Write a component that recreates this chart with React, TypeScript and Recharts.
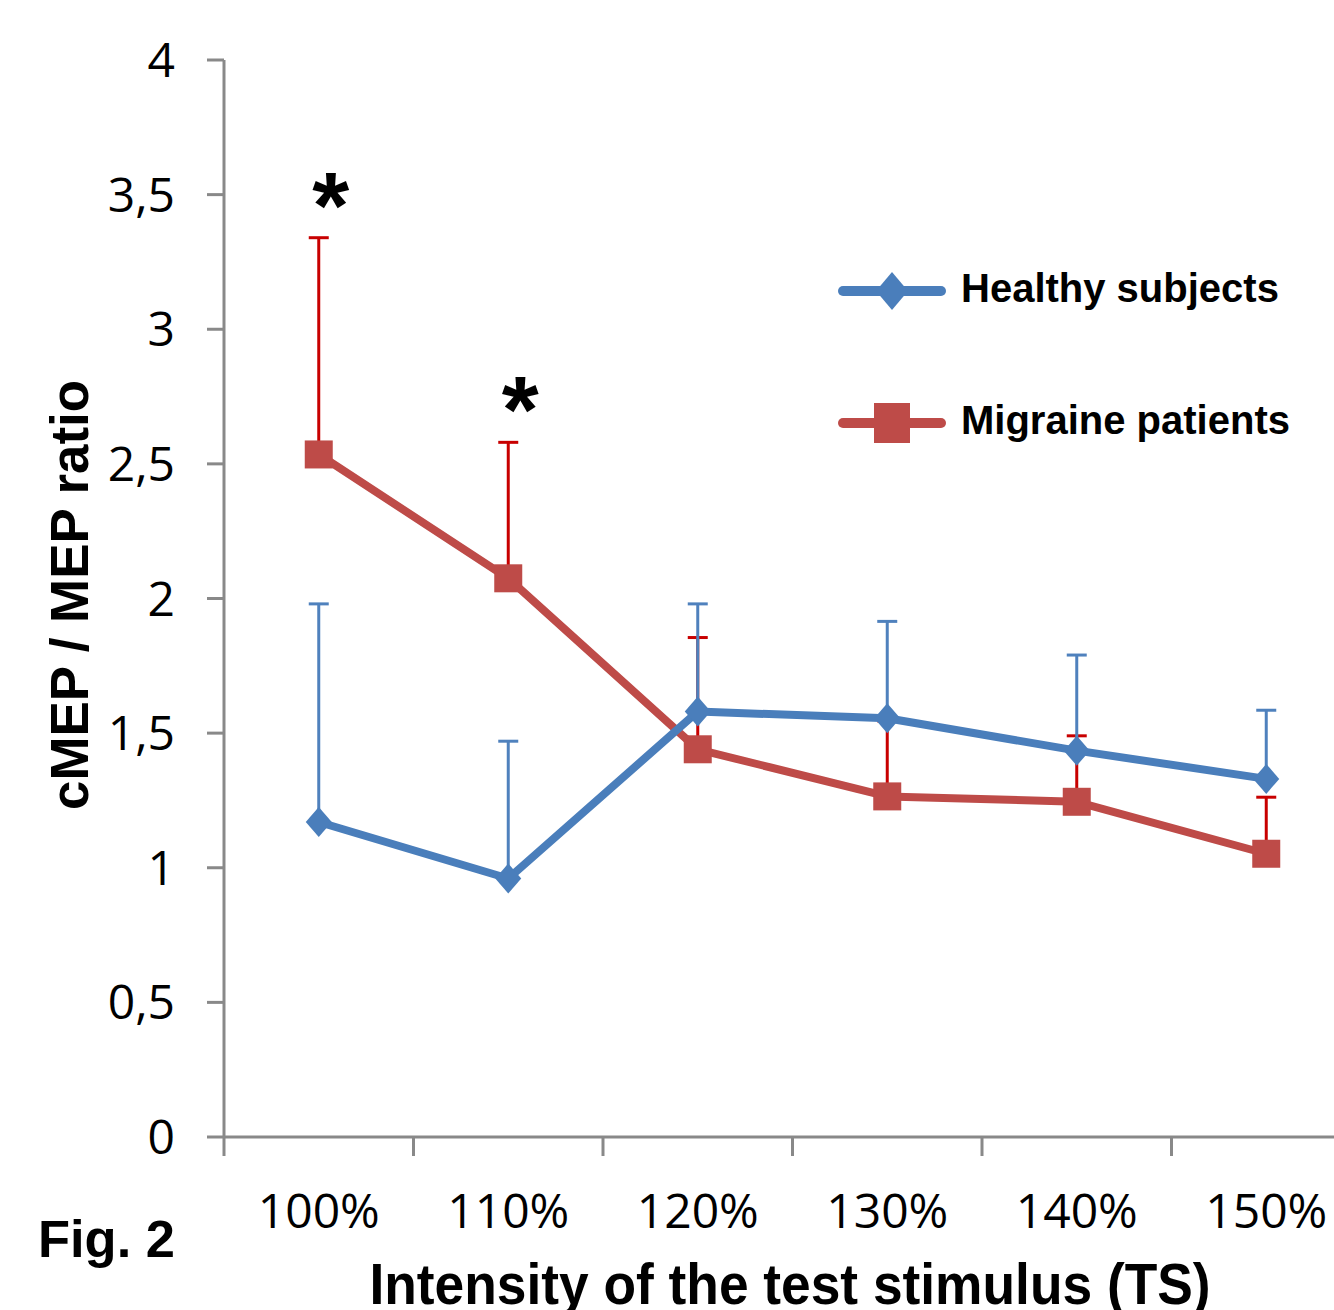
import React from 'react';
import { LineChart, Line, XAxis, YAxis, ErrorBar, Legend, Label } from 'recharts';

// values
const categories = ['100%', '110%', '120%', '130%', '140%', '150%'];
const healthy = [1.17, 0.96, 1.58, 1.555, 1.435, 1.33];
const healthyErr = [0.81, 0.51, 0.4, 0.36, 0.355, 0.255];
const migraine = [2.535, 2.075, 1.44, 1.265, 1.245, 1.052];
const migraineErr = [0.805, 0.505, 0.415, 0.28, 0.245, 0.21];
const stars = ['*', '*', '', '', '', ''];
const yTicks = [0, 0.5, 1, 1.5, 2, 2.5, 3, 3.5, 4];
const xTicks = [0, 1, 2, 3, 4, 5, 6];
const seriesNames = ['Healthy subjects', 'Migraine patients'];

const BLUE = '#4A7EBB';
const RED = '#BE4B48';
const BLUE_ERR = '#4F81BD';
const RED_ERR = '#C80000';
const AXIS = '#898989';
const BOLD = '"Liberation Sans", Arial, sans-serif';
const TICK_FONT = '"Open Sans", sans-serif';

const W = 1370;
const H = 1310;
const Y_W = 224;
const X_H = 173;
const MARGIN = { top: 60, right: 9, left: 0, bottom: 0 };
const PLOT_W = W - Y_W - MARGIN.right;

// one row per category, x sits in the middle of each band
const data = categories.map((c, i) => ({
    x: i + 0.5,
    name: c,
    healthy: healthy[i],
    healthyErr: [0, healthyErr[i]],
    migraine: migraine[i],
    migraineErr: [0, migraineErr[i]],
    migraineTop: migraine[i] + migraineErr[i],
}));

const Diamond = ({ cx, cy, fill, w = 13, h = 15 }: any) => (
    <polygon points={`${cx},${cy - h} ${cx + w},${cy} ${cx},${cy + h} ${cx - w},${cy}`} fill={fill} />
);

const Square = ({ cx, cy, fill, w = 14, h = 14 }: any) => (
    <rect x={cx - w} y={cy - h} width={w * 2} height={h * 2} fill={fill} />
);

const XTick = ({ x, y, payload }: any) => {
    const label = categories[payload.value];
    if (!label) return null;
    const half = PLOT_W / categories.length / 2;
    return (
        <text x={x + half} y={y + 72} textAnchor="middle" fontFamily={TICK_FONT} fontSize={48} fill="#000">
            {label}
        </text>
    );
};

const LegendContent = ({ payload }: any) => {
    const items = (payload || [])
        .filter((e: any) => seriesNames.includes(e.value))
        .sort((a: any, b: any) => seriesNames.indexOf(a.value) - seriesNames.indexOf(b.value));
    return (
        <svg width={480} height={200}>
            {items.map((e: any) => {
                const first = e.value === seriesNames[0];
                const cy = first ? 41 : 173;
                return (
                    <g key={e.value}>
                        <line x1={8} x2={106} y1={cy} y2={cy} stroke={e.color} strokeWidth={10} strokeLinecap="round" />
                        {first
                            ? <Diamond cx={57} cy={cy} fill={e.color} w={16} h={19} />
                            : <Square cx={57} cy={cy} fill={e.color} w={18} h={20} />}
                        <text x={126} y={cy + 11} fontFamily={BOLD} fontWeight="bold" fontSize={40} fill="#000">
                            {e.value}
                        </text>
                    </g>
                );
            })}
        </svg>
    );
};

const StarLabel = ({ x, y, index }: any) => (
    <text x={x + 12} y={y} textAnchor="middle" fontFamily={BOLD} fontWeight="bold" fontSize={95} fill="#000">
        {stars[index]}
    </text>
);

export default function App() {
    return (
        <div style={{ position: 'absolute', left: 0, top: 0, width: 1334, height: 1310, overflow: 'hidden', background: '#fff' }}>
            <LineChart width={W} height={H} data={data} margin={MARGIN}>
                <XAxis
                    dataKey="x"
                    type="number"
                    domain={[0, 6]}
                    ticks={xTicks}
                    interval={0}
                    height={X_H}
                    stroke={AXIS}
                    strokeWidth={3}
                    tickSize={19}
                    tickMargin={0}
                    tick={<XTick />}
                >
                    <Label
                        value="Intensity of the test stimulus (TS)"
                        content={() => (
                            <g>
                                <text x={790} y={1304} textAnchor="middle" fontFamily={BOLD} fontWeight="bold"
                                    fontSize={57} textLength={841} lengthAdjust="spacingAndGlyphs" fill="#000">
                                    Intensity of the test stimulus (TS)
                                </text>
                                <text x={38} y={1257} fontFamily={BOLD} fontWeight="bold" fontSize={51}
                                    textLength={137} lengthAdjust="spacingAndGlyphs" fill="#000">
                                    Fig. 2
                                </text>
                            </g>
                        )}
                    />
                </XAxis>
                <YAxis
                    domain={[0, 4]}
                    ticks={yTicks}
                    interval={0}
                    width={Y_W}
                    stroke={AXIS}
                    strokeWidth={3}
                    tickSize={17}
                    tickMargin={32}
                    tick={{ fill: '#000', fontSize: 48, fontFamily: TICK_FONT }}
                    tickFormatter={(v: number) => String(v).replace('.', ',')}
                >
                    <Label
                        value="cMEP / MEP ratio"
                        content={() => (
                            <text x={88} y={595} transform="rotate(-90 88 595)" textAnchor="middle" fontFamily={BOLD}
                                fontWeight="bold" fontSize={54} textLength={430} lengthAdjust="spacingAndGlyphs" fill="#000">
                                cMEP / MEP ratio
                            </text>
                        )}
                    />
                </YAxis>
                <Legend
                    layout="vertical"
                    align="center"
                    verticalAlign="middle"
                    content={<LegendContent />}
                    wrapperStyle={{ left: 835, top: 250, width: 480, height: 200 }}
                />
                <Line
                    name={seriesNames[1]}
                    dataKey="migraine"
                    stroke={RED}
                    strokeWidth={8}
                    strokeLinejoin="round"
                    dot={(p: any) => <Square key={`m${p.index}`} cx={p.cx} cy={p.cy} fill={RED} />}
                    activeDot={false}
                    isAnimationActive={false}
                >
                    <ErrorBar dataKey="migraineErr" direction="y" width={10} strokeWidth={3} stroke={RED_ERR} />
                </Line>
                <Line
                    name={seriesNames[0]}
                    dataKey="healthy"
                    stroke={BLUE}
                    strokeWidth={8}
                    strokeLinejoin="round"
                    dot={(p: any) => <Diamond key={`h${p.index}`} cx={p.cx} cy={p.cy} fill={BLUE} />}
                    activeDot={false}
                    isAnimationActive={false}
                >
                    <ErrorBar dataKey="healthyErr" direction="y" width={10} strokeWidth={3} stroke={BLUE_ERR} />
                </Line>
                {/* invisible series at the top of the migraine error bars, only carries the asterisks */}
                <Line
                    name="stars"
                    dataKey="migraineTop"
                    stroke="none"
                    dot={false}
                    activeDot={false}
                    legendType="none"
                    label={<StarLabel />}
                    isAnimationActive={false}
                />
            </LineChart>
        </div>
    );
}
